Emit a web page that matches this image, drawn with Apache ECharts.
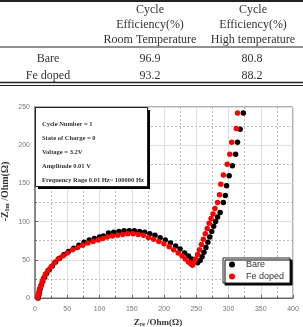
<!DOCTYPE html>
<html>
<head>
<meta charset="utf-8">
<script src="https://cdn.jsdelivr.net/npm/echarts@6/dist/echarts.min.js"></script>
<style>
  html, body { margin: 0; padding: 0; background: #fff; }
  #chart { width: 303px; height: 327px; }
</style>
</head>
<body>
<div id="chart"></div>
<script>
// table above the plot
const tableRows = ['Bare', 'Fe doped']
const roomTemp = ['96.9', '93.2']
const highTemp = ['80.8', '88.2']
const headRoom = ['Cycle', 'Efficiency(%)', 'Room Temperature']
const headHigh = ['Cycle', 'Efficiency(%)', 'High temperature']

// impedance data, Z_re / -Z_Im (Ohm)
const bareX = [5, 6, 7, 8, 10, 12, 15, 18, 22, 27, 32, 38, 45, 52, 60, 68, 76, 84, 92, 100, 106,
  114, 122, 130, 138, 146, 154, 162, 170, 178, 186, 194, 202, 210, 218, 225, 232, 238, 243, 248, 252,
  256, 259, 262, 265, 268, 271, 274, 277, 280, 283, 287, 292, 295, 297, 301, 306, 311, 314, 318, 323]
const bareY = [0, 4, 8, 12, 17, 22, 27, 32, 37, 42, 47, 52, 57, 61, 65, 69, 73, 76, 78, 80, 81,
  85, 86, 87, 88, 88, 88, 87, 86, 84, 82, 79, 76, 72, 68, 64, 59, 55, 51, 48, 46,
  49, 54, 60, 66, 73, 80, 87, 94, 100, 106, 112, 125, 134, 147, 160, 173, 188, 204, 221, 242]
const dopedX = [4, 5, 6, 7, 9, 11, 13, 16, 20, 25, 30, 36, 43, 50, 58, 66, 74, 82, 90, 98, 105,
  112, 120, 128, 136, 144, 152, 160, 168, 176, 184, 192, 200, 208, 215, 222, 228, 233, 238, 241, 244,
  246, 249, 252, 255, 258, 261, 264, 267, 270, 273, 276, 279, 283, 286, 288, 292, 298, 302, 305, 312, 314]
const dopedY = [0, 4, 8, 12, 16, 21, 26, 31, 36, 41, 46, 51, 55, 59, 63, 66, 69, 72, 74, 76, 78,
  80, 81, 82, 83, 84, 84, 83, 82, 79, 77, 74, 71, 67, 63, 59, 55, 51, 47, 45, 43,
  46, 51, 57, 63, 70, 77, 84, 91, 98, 104, 110, 117, 125, 135, 149, 161, 175, 188, 204, 222, 242]

const infoLines = ['Cycle Number = 1', 'State of Charge = 0', 'Voltage = 3.2V',
  'Amplitude 0.01 V', 'Frequency Rage 0.01 Hz~ 100000 Hz']

const pairs = (xs, ys) => xs.map((x, i) => [x, ys[i]])

const serif = '"Liberation Serif", "DejaVu Serif", serif'
const tableFont = '12px ' + serif

// table graphics
const graphics = []
const line = (x1, y1, x2, y2, w) => graphics.push({
  type: 'line', shape: { x1, y1, x2, y2 }, style: { stroke: '#222', lineWidth: w }, z: 100
})
const text = (t, x, y, font, align) => graphics.push({
  type: 'text', z: 101,
  style: { text: t, x, y, font, fill: '#333', textAlign: align || 'center', textVerticalAlign: 'middle' }
})
line(0, 1, 303, 1, 2)
line(0, 47, 303, 47, 1)
line(0, 82.5, 303, 82.5, 1.5)
line(0, 85.5, 303, 85.5, 1)
headRoom.forEach((t, i) => text(t, 150, 10 + i * 15, tableFont))
headHigh.forEach((t, i) => text(t, 253, 10 + i * 15, tableFont))
tableRows.forEach((t, i) => {
  text(t, 48, 59 + i * 17, tableFont)
  text(roomTemp[i], 150, 59 + i * 17, tableFont)
  text(highTemp[i], 252, 59 + i * 17, tableFont)
})

// info box with shadow
graphics.push({ type: 'rect', z: 100, shape: { x: 38, y: 110, width: 112, height: 79 }, style: { fill: '#000' } })
graphics.push({ type: 'rect', z: 100, shape: { x: 35.5, y: 107.5, width: 112, height: 79 },
  style: { fill: '#fff', stroke: '#222', lineWidth: 1 } })
infoLines.forEach((t, i) => text(t, 42, 124 + i * 14, 'bold 6.5px ' + serif, 'left'))

const chart = echarts.init(document.getElementById('chart'))

const axisLabel = { color: '#777', fontSize: 7, fontFamily: 'Liberation Sans, Arial, sans-serif' }
const nameRich = (size) => ({
  a: { fontFamily: serif, fontWeight: 'bold', fontSize: size, color: '#333' },
  s: { fontFamily: serif, fontWeight: 'bold', fontSize: size * 0.65, color: '#333', verticalAlign: 'bottom', padding: [4, 0, 0, 0] }
})

chart.setOption({
  animation: false,
  grid: {
    left: 35, right: 10, top: 107, bottom: 29, outerBoundsMode: 'none',
    show: true, borderColor: '#666', borderWidth: 1
  },
  legend: {
    data: ['Bare', 'Fe doped'],
    orient: 'vertical',
    left: 223, top: 258,
    itemWidth: 6, itemHeight: 6, itemGap: 3,
    padding: [2, 6, 2, 6],
    icon: 'circle',
    backgroundColor: '#fff',
    borderColor: '#222', borderWidth: 1,
    shadowColor: '#000', shadowOffsetX: 2, shadowOffsetY: 2, shadowBlur: 0,
    textStyle: { fontSize: 9, color: '#333', fontFamily: 'Liberation Sans, Arial, sans-serif', padding: [0, 0, 0, 6] }
  },
  xAxis: {
    type: 'value', min: 0, max: 400, interval: 50,
    name: '{a|Z}{s|re}{a| /Ohm(Ω)}',
    nameLocation: 'middle', nameGap: 17,
    nameTextStyle: { rich: nameRich(9), padding: [0, 12, 0, 0] },
    axisLine: { onZero: false, lineStyle: { color: '#666', width: 1 } },
    axisTick: { inside: true, length: 3, lineStyle: { color: '#666' } },
    minorTick: { show: true, splitNumber: 2, length: 2, lineStyle: { color: '#666' } },
    axisLabel: Object.assign({ margin: 8 }, axisLabel),
    splitLine: { lineStyle: { color: '#ddd', width: 1 } },
    minorSplitLine: { show: true, lineStyle: { color: '#aaa', type: [2, 2], width: 0.8 } }
  },
  yAxis: {
    type: 'value', min: 0, max: 250, interval: 50,
    name: '{a|-Z}{s|Im}{a| /Ohm(Ω)}',
    nameLocation: 'middle', nameGap: 24, nameRotate: 90, nameMoveOverlap: false,
    nameTextStyle: { rich: nameRich(10), padding: [0, 0, 0, 22] },
    axisLine: { onZero: false, lineStyle: { color: '#888', width: 2 } },
    axisTick: { inside: true, length: 3, lineStyle: { color: '#666' } },
    minorTick: { show: true, splitNumber: 2, length: 2, lineStyle: { color: '#666' } },
    axisLabel: Object.assign({ margin: 5 }, axisLabel),
    splitLine: { lineStyle: { color: '#ddd', width: 1 } },
    minorSplitLine: { show: true, lineStyle: { color: '#aaa', type: [2, 2], width: 0.8 } }
  },
  graphic: graphics,
  series: [
    {
      name: 'Bare', type: 'scatter', symbolSize: 5.5,
      itemStyle: { color: '#000', opacity: 1 },
      data: pairs(bareX, bareY)
    },
    {
      name: 'Fe doped', type: 'scatter', symbolSize: 5.5,
      itemStyle: { color: '#f00', opacity: 1 },
      data: pairs(dopedX, dopedY)
    }
  ]
})
</script>
</body>
</html>
